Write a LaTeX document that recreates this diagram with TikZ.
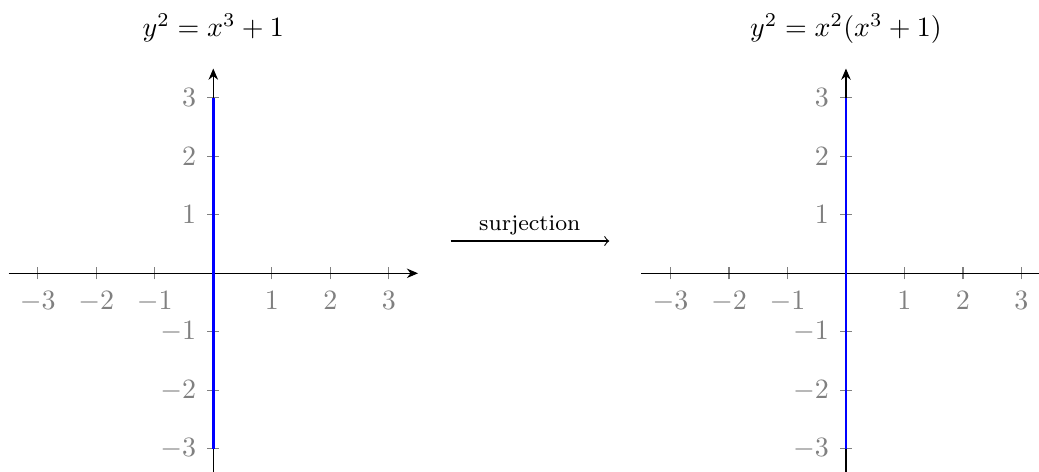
\documentclass[tikz,border=0pt]{standalone}
\usetikzlibrary{arrows.meta}
\begin{document}
\begin{tikzpicture}[x=0.735cm,y=0.735cm,
  axisline/.style={black,line width=0.4pt,-{Stealth[length=4pt,width=3.4pt]}},
  tickmark/.style={gray,line width=0.4pt},
  xlab/.style={gray,anchor=north,yshift=-3pt,inner sep=3.33pt},
  ylab/.style={gray,anchor=east,xshift=-2.6pt,inner sep=3.33pt},
  curve/.style={blue,line width=1pt},
  title/.style={anchor=base,inner sep=0pt},
  maparrow/.style={black,line width=0.4pt,-to}]
\useasboundingbox (-3.646,-3.380) rectangle (14.115,4.672);
% two coordinate systems
\foreach \ox/\nm in {0/L,10.815/R}{
  \begin{scope}[xshift=\ox*0.735cm]
    \coordinate (\nm xa) at (-3.5,0);
    \coordinate (\nm xb) at (3.5,0);
    \coordinate (\nm ya) at (0,-3.5);
    \coordinate (\nm yb) at (0,3.5);
    \coordinate (\nm c0) at (0,-3);
    \coordinate (\nm c1) at (0,3);
    \foreach \t in {-3,-2,-1,1,2,3}{
      \draw[tickmark] (\t,0) ++(0,-0.075cm) -- ++(0,0.15cm);
      \node[xlab] (\nm x\t) at (\t,0) {$\t$};
      \draw[tickmark] (0,\t) ++(-0.075cm,0) -- ++(0.15cm,0);
      \node[ylab] (\nm y\t) at (0,\t) {$\t$};
    }
    \draw[axisline] (\nm xa) -- (\nm xb);
    \draw[axisline] (\nm ya) -- (\nm yb);
    \draw[curve] (\nm c0) -- (\nm c1);
  \end{scope}
}
\node[title] (tl) at (0,4.045) {$y^2=x^3+1$};
\node[title] (tr) at (10.815,4.045) {$y^2=x^2(x^3+1)$};
\coordinate (ma) at (4.058,0.552);
\coordinate (mb) at (6.77,0.552);
\draw[maparrow] (ma) -- (mb);
\node[anchor=base,inner sep=0pt,font=\footnotesize] (ml) at (5.41,0.74) {surjection};
\end{tikzpicture}
\end{document}
